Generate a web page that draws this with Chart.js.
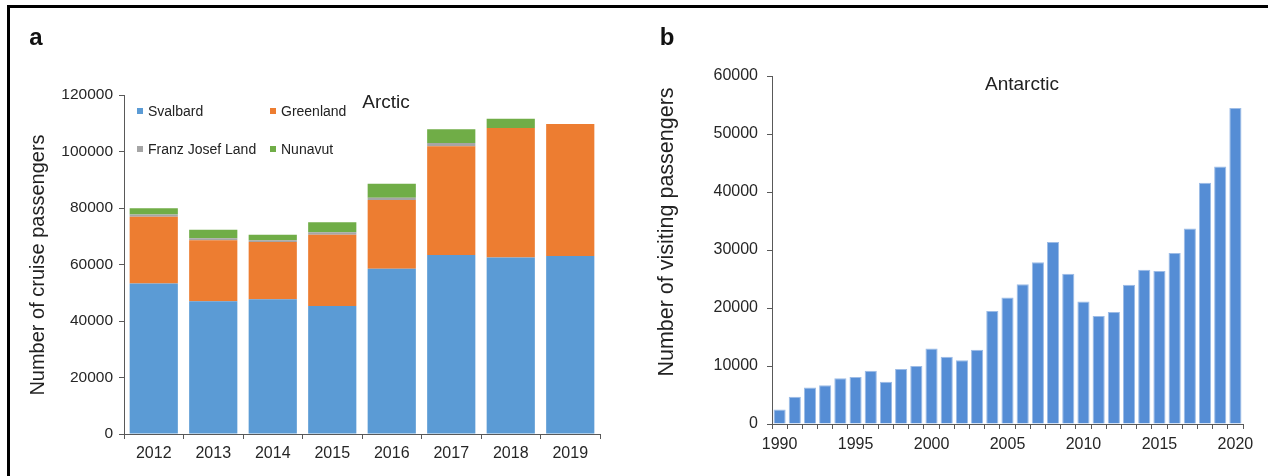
<!DOCTYPE html>
<html>
<head>
<meta charset="utf-8">
<script src="https://cdn.jsdelivr.net/npm/chart.js@4.4.1/dist/chart.umd.min.js"></script>
<style>
  body { margin: 0; width: 1268px; height: 476px; position: relative; background: #fff; overflow: hidden;
         font-family: "Liberation Sans", Arial, sans-serif; color: #222; }
  .abs { position: absolute; }
  .c { transform: translate(-50%, -50%); line-height: 1; white-space: nowrap; }
  .rot { transform: translate(-50%, -50%) rotate(-90deg); line-height: 1; white-space: nowrap; }
  .panel { font-weight: bold; font-size: 24px; color: #111; }
  .leg { font-size: 14px; line-height: 1; white-space: nowrap; transform: translateY(-50%); display: flex; align-items: center; }
  .leg i { display: inline-block; width: 6px; height: 6px; margin-right: 5px; }
</style>
</head>
<body>
<div class="abs" style="left:7px;top:5px;width:1261px;height:3px;background:#000"></div>
<div class="abs" style="left:7px;top:5px;width:3px;height:471px;background:#000"></div>

<div class="abs" style="left:0;top:0"><canvas id="arcticChart" width="640" height="476"></canvas></div>
<div class="abs" style="left:640px;top:0"><canvas id="antarcticChart" width="628" height="476"></canvas></div>

<div class="abs c panel" style="left:36px;top:37px">a</div>
<div class="abs c panel" style="left:667px;top:37px">b</div>
<div class="abs c" style="left:386px;top:101px;font-size:19px">Arctic</div>
<div class="abs c" style="left:1022px;top:83px;font-size:19px">Antarctic</div>
<div class="abs rot" style="left:37px;top:265px;font-size:20px">Number of cruise passengers</div>
<div class="abs rot" style="left:667px;top:232px;font-size:21.5px">Number of visiting passengers</div>
<div id="legend"></div>

<script>
// Arctic cruise passengers (panel a)
const arcticYears = ['2012', '2013', '2014', '2015', '2016', '2017', '2018', '2019'];
const svalbard   = [53300, 47000, 47700, 45300, 58500, 63400, 62500, 63000];
const greenland  = [23600, 21600, 20300, 25200, 24300, 38500, 45800, 46700];
const franzJosef = [800, 700, 600, 900, 800, 1100, 0, 0];
const nunavut    = [2200, 3000, 1900, 3600, 5000, 4900, 3300, 0];

// Antarctic visiting passengers (panel b)
const antarcticYears = ['1990', '1991', '1992', '1993', '1994', '1995', '1996', '1997', '1998', '1999',
  '2000', '2001', '2002', '2003', '2004', '2005', '2006', '2007', '2008', '2009',
  '2010', '2011', '2012', '2013', '2014', '2015', '2016', '2017', '2018', '2019', '2020'];
const antarcticPassengers = [2500, 4700, 6300, 6700, 7900, 8100, 9200, 7300, 9500, 10000,
  13000, 11600, 11000, 12800, 19500, 21800, 24100, 27900, 31400, 25900,
  21100, 18600, 19300, 24000, 26600, 26400, 29500, 33700, 41600, 44400, 54500];

const seriesNames = ['Svalbard', 'Greenland', 'Franz Josef Land', 'Nunavut'];
const seriesColors = ['#5b9bd5', '#ed7d31', '#a5a5a5', '#70ad47'];
const legendSpots = [[137, 111], [270, 111], [137, 149], [270, 149]];

const axisColor = '#595959';
const tickColor = '#262626';

// legend inside the plot, two columns
const legendBox = document.getElementById('legend');
seriesNames.forEach((name, i) => {
  const el = document.createElement('div');
  el.className = 'abs leg';
  el.style.left = legendSpots[i][0] + 'px';
  el.style.top = legendSpots[i][1] + 'px';
  el.innerHTML = '<i style="background:' + seriesColors[i] + '"></i>' + name;
  legendBox.appendChild(el);
});

function axes(yMax, yStep, yWidth, xHeight, fontX, fontY, padX, padY) {
  return {
    x: {
      stacked: true,
      grid: { display: true, offset: true, drawOnChartArea: false, drawTicks: true, tickLength: 5, color: axisColor },
      border: { display: true, color: axisColor },
      ticks: { font: { size: fontX, family: 'Liberation Sans' }, color: tickColor, padding: padX, autoSkip: false, maxRotation: 0 },
      afterFit: s => { s.height = xHeight; }
    },
    y: {
      stacked: true,
      min: 0,
      max: yMax,
      grid: { display: true, drawOnChartArea: false, drawTicks: true, tickLength: 5, color: axisColor },
      border: { display: true, color: axisColor },
      ticks: { stepSize: yStep, font: { size: fontY, family: 'Liberation Sans' }, color: tickColor, padding: padY,
               callback: v => String(v) },
      afterFit: s => { s.width = yWidth; }
    }
  };
}

const arcticSeries = [svalbard, greenland, franzJosef, nunavut];
new Chart(document.getElementById('arcticChart'), {
  type: 'bar',
  data: {
    labels: arcticYears,
    datasets: arcticSeries.map((d, i) => ({
      label: seriesNames[i],
      data: d,
      backgroundColor: seriesColors[i],
      categoryPercentage: 1,
      barPercentage: 0.81
    }))
  },
  options: {
    responsive: false,
    animation: false,
    layout: { padding: { top: 95, right: 40, left: 0, bottom: 0 } },
    scales: axes(120000, 20000, 124, 42, 16, 15.5, 5, 6),
    plugins: { legend: { display: false }, tooltip: { enabled: false } }
  }
});

const antOpts = axes(60000, 10000, 132, 52, 16, 16, 6, 9);
antOpts.x.ticks.callback = (v, i) => (Number(antarcticYears[i]) % 5 === 0 ? antarcticYears[i] : '');

new Chart(document.getElementById('antarcticChart'), {
  type: 'bar',
  data: {
    labels: antarcticYears,
    datasets: [{
      label: 'Antarctic',
      data: antarcticPassengers,
      backgroundColor: '#558dd5',
      borderColor: '#9dbce6',
      borderWidth: 1,
      categoryPercentage: 1,
      barPercentage: 0.8
    }]
  },
  options: {
    responsive: false,
    animation: false,
    layout: { padding: { top: 76, right: 25, left: 0, bottom: 0 } },
    scales: antOpts,
    plugins: { legend: { display: false }, tooltip: { enabled: false } }
  }
});
</script>
</body>
</html>
